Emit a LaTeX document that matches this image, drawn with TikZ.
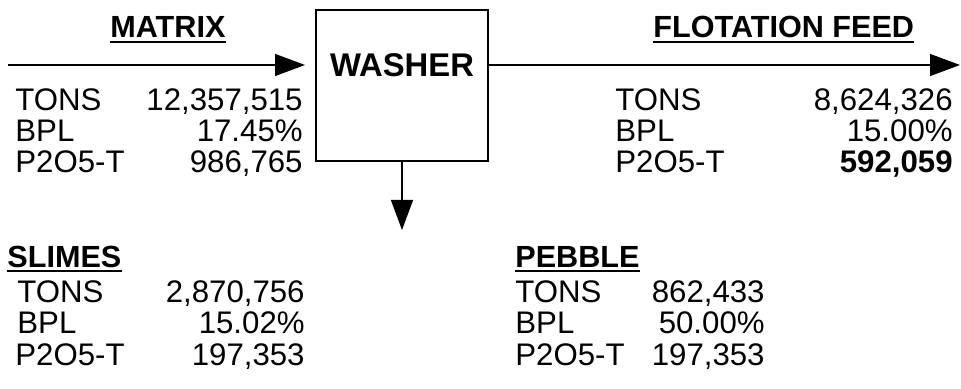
\documentclass[tikz,border=0pt]{standalone}
\usepackage{fontspec}
\setmainfont{Liberation Sans}
\usetikzlibrary{arrows.meta}
\begin{document}
\begin{tikzpicture}[x=0.5pt, y=-0.5pt,
    every node/.style={inner sep=0pt, font=\fontsize{15.6}{18}\selectfont},
    lbl/.style={anchor=base west},
    val/.style={anchor=base east},
    heading/.style={anchor=base west, font=\fontsize{15.3}{18}\selectfont\bfseries},
    ulline/.style={line width=1pt},
    flow/.style={line width=0.6pt, -{Triangle[length=15pt, width=11pt]}}]
    \useasboundingbox (0,0) rectangle (961,389);

    % washer box
    \node[draw, line width=0.7pt, minimum width=86pt, minimum height=75.5pt] (washer) at (402,85.5) {};
    \node[font=\fontsize{16.4}{18}\selectfont\bfseries] (washertxt) at (402,65) {WASHER};

    % streams
    \coordinate (matrixin) at (8,65);
    \coordinate (matrixend) at (305,65);
    \coordinate (feedend) at (960,65);
    \coordinate (slimesend) at (402,230);
    \draw[flow] (matrixin) -- (matrixend);
    \draw[flow] (washer.east |- feedend) -- (feedend);
    \draw[flow] (washer.south) -- (slimesend);

    % headings
    \node[heading] (matrix) at (110,38) {MATRIX};
    \node[heading] (feed) at (653,38) {FLOTATION FEED};
    \node[heading] (slimes) at (7,267) {SLIMES};
    \node[heading] (pebble) at (515,267) {PEBBLE};
    \foreach \h in {matrix, feed, slimes, pebble}
        \draw[ulline] ([yshift=-2.2pt]\h.base west) -- ([yshift=-2.2pt]\h.base east);

    % matrix
    \node[lbl] (mtons) at (15,111) {TONS};
    \node[lbl] (mbpl) at (15,142) {BPL};
    \node[lbl] (mp) at (15,173) {P2O5-T};
    \node[val] (mtonsv) at (303,111) {12,357,515};
    \node[val] (mbplv) at (303,142) {17.45\%};
    \node[val] (mpv) at (303,173) {986,765};

    % flotation feed
    \node[lbl] (ftons) at (615,111) {TONS};
    \node[lbl] (fbpl) at (615,142) {BPL};
    \node[lbl] (fp) at (615,173) {P2O5-T};
    \node[val] (ftonsv) at (953,111) {8,624,326};
    \node[val] (fbplv) at (953,142) {15.00\%};
    \node[val, font=\fontsize{15.6}{18}\selectfont\bfseries] (fpv) at (953,173) {592,059};

    % slimes
    \node[lbl] (stons) at (17,302) {TONS};
    \node[lbl] (sbpl) at (17,333) {BPL};
    \node[lbl] (sp) at (15,365) {P2O5-T};
    \node[val] (stonsv) at (305,302) {2,870,756};
    \node[val] (sbplv) at (305,333) {15.02\%};
    \node[val] (spv) at (305,365) {197,353};

    % pebble
    \node[lbl] (ptons) at (515,302) {TONS};
    \node[lbl] (pbpl) at (515,333) {BPL};
    \node[lbl] (pp) at (515,365) {P2O5-T};
    \node[val] (ptonsv) at (765,302) {862,433};
    \node[val] (pbplv) at (765,333) {50.00\%};
    \node[val] (ppv) at (765,365) {197,353};
\end{tikzpicture}
\end{document}
